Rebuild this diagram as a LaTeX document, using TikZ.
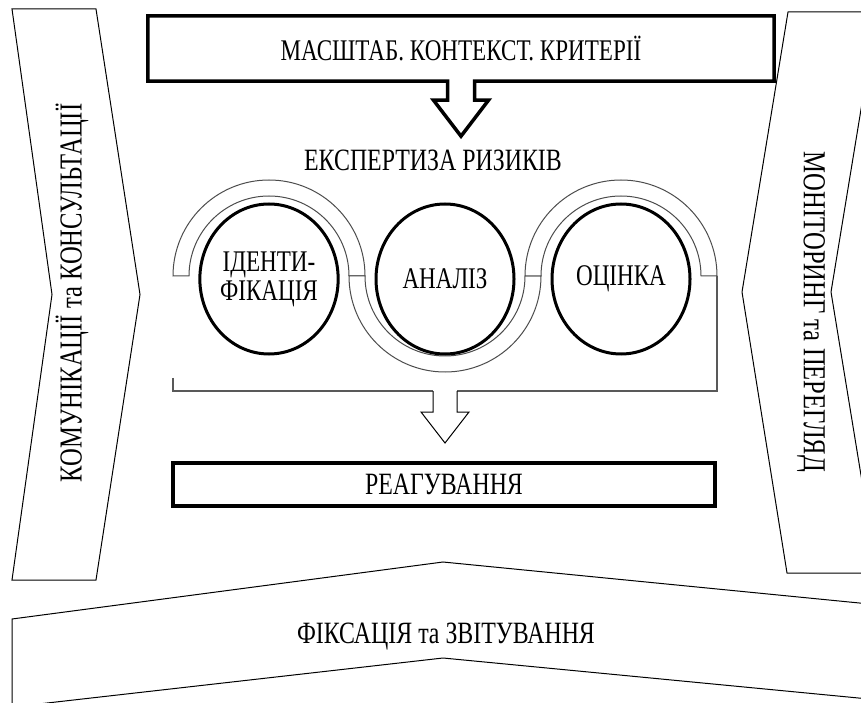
\documentclass[tikz,border=0pt]{standalone}
\usepackage{fontspec}
\setmainfont{Liberation Serif}[FakeStretch=0.77]
\usetikzlibrary{calc,shapes.geometric,positioning}

\begin{document}
\begin{tikzpicture}[x=1pt,y=1pt,
    frame/.style={draw=black,line width=1pt,line join=miter},
    boxtext/.style={font=\fontsize{31}{34}\selectfont,inner sep=0pt,align=center},
    sidetext/.style={font=\fontsize{32}{34}\selectfont,inner sep=0pt},
    stage/.style={ellipse,draw,line width=3pt,minimum width=138pt,minimum height=150pt,inner sep=0pt,align=center,font=\fontsize{30}{29}\selectfont},
    band/.style={draw=black!70,line width=1pt,fill=white},
    bracket/.style={draw=black!65,line width=1.6pt},
    hollow/.style={draw=black,line width=1pt,fill=white,line join=miter}
]

\useasboundingbox (0,0) rectangle (861,702);

% === Left chevron ===
\draw[frame] (12,693) -- (96,693) -- (140,407.5) -- (96,122) -- (12,122) -- (52,407.5) -- cycle;
\node[sidetext,rotate=90] (comm) at (72,409) {КОМУНІКАЦІЇ та КОНСУЛЬТАЦІЇ};

% === Right chevron ===
\draw[frame] (788,690) -- (877,690) -- (831,410) -- (877,129) -- (787,129) -- (742,410) -- cycle;
\node[sidetext,rotate=-90] (monit) at (811,390) {МОНІТОРИНГ та ПЕРЕГЛЯД};

% === Bottom chevron ===
\draw[frame] (12,-5) -- (12,83) -- (443,140) -- (900,95) -- (900,0) -- (443,44) -- cycle;
\node[boxtext] (record) at (446,65) {ФІКСАЦІЯ та ЗВІТУВАННЯ};

% === Scope box with arrow ===
\node[boxtext,font=\fontsize{30}{33}\selectfont,minimum width=626pt,minimum height=65pt] (scope) at (461,653.5) {МАСШТАБ. КОНТЕКСТ. КРИТЕРІЇ};
\coordinate (tipA) at ($(scope.south)+(0,-55)$);
\draw[line width=3.5pt,line join=miter]
    (scope.south west) -- (scope.north west) -- (scope.north east) -- (scope.south east)
    -- ($(scope.south)+(13.5,0)$) -- ($(tipA)+(13.5,36)$) -- ($(tipA)+(27.5,36)$) -- (tipA)
    -- ($(tipA)+(-27.5,36)$) -- ($(tipA)+(-13.5,36)$) -- ($(scope.south)+(-13.5,0)$) -- cycle;

\node[boxtext] (expert) at (433,542) {ЕКСПЕРТИЗА РИЗИКІВ};

% === Serpentine band ===
\coordinate (c1) at (269,426);
\coordinate (c2) at (445,426);
\coordinate (c3) at (621,426);
\draw[band] ($(c1)+(-96,0)$) arc (180:0:96) -- ++(-16,0) arc (0:180:80) -- cycle;
\draw[band] ($(c2)+(-96,0)$) arc (180:360:96) -- ++(-16,0) arc (360:180:80) -- cycle;
\draw[band] ($(c3)+(-96,0)$) arc (180:0:96) -- ++(-16,0) arc (0:180:80) -- cycle;

% === Stages ===
\node[stage] (ident) at (269,423) {ІДЕНТИ-\\ФІКАЦІЯ};
\node[stage] (analysis) at (445,423) {АНАЛІЗ};
\node[stage] (evaluate) at (621,423) {ОЦІНКА};

% === Bracket and arrow ===
\coordinate (brL) at ($(c1)+(-96,-102)$);
\coordinate (brR) at ($(c3)+(96,0)$);
\coordinate (tipB) at ($(c2)+(0,-167)$);
\draw[bracket] (brL) -- ++(0,-13) -| ($(tipB)+(-12,52)$);
\draw[bracket] (brR) |- ($(tipB)+(12,52)$);
\draw[hollow] ($(tipB)+(-12,52)$) -- ($(tipB)+(-12,31)$) -- ($(tipB)+(-24,31)$) -- (tipB)
    -- ($(tipB)+(24,31)$) -- ($(tipB)+(12,31)$) -- ($(tipB)+(12,52)$);

% === Response box ===
\node[boxtext,draw,line width=3.5pt,minimum width=542pt,minimum height=43pt] (react) at (444,217.5) {РЕАГУВАННЯ};

\end{tikzpicture}
\end{document}
